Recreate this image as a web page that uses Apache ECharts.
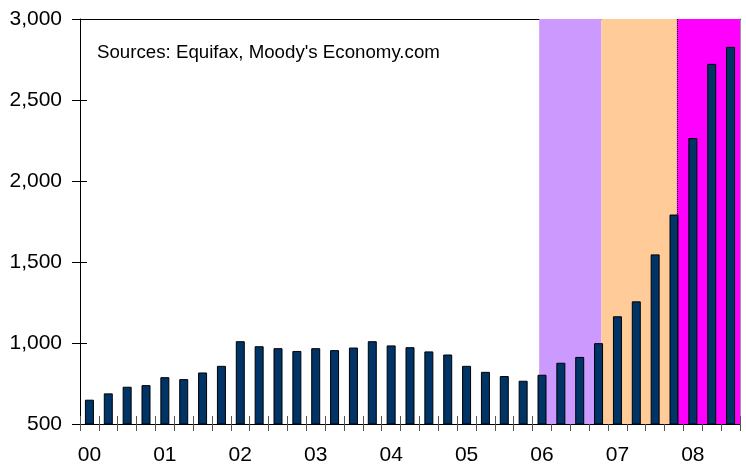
<!DOCTYPE html>
<html>
<head>
<meta charset="utf-8">
<script src="https://cdn.jsdelivr.net/npm/echarts@6/dist/echarts.min.js"></script>
<style>
  html, body { margin: 0; padding: 0; background: #fff; }
  #chart { width: 746px; height: 466px; }
</style>
</head>
<body>
<div id="chart"></div>
<script>
// quarterly data, 2000Q1 - 2008Q3
var years = ['00', '01', '02', '03', '04', '05', '06', '07', '08'];
var quarters = ['Q1', 'Q2', 'Q3', 'Q4'];
var values = [
    650, 689, 730, 740,
    789, 777, 818, 859,
    1011, 980, 968, 951,
    968, 956, 972, 1011,
    985, 974, 948, 929,
    859, 822, 796, 767,
    804, 878, 914, 999,
    1165, 1257, 1547, 1793,
    2265, 2723, 2828
];
// shaded periods, in quarter units counted from 2000Q1
var shadeFrom = [24.35, 27.65, 31.65];
var shadeTo = [27.65, 31.65, 35];
var shadeColors = ['#CC99FF', '#FFCC99', '#FF00FF'];
var yTicks = [500, 1000, 1500, 2000, 2500, 3000];
var sourceText = "Sources: Equifax, Moody's Economy.com";

var categories = [];
for (var i = 0; i < values.length; i++) {
    categories.push(years[Math.floor(i / 4)] + quarters[i % 4]);
}

var areas = [];
for (var k = 0; k < shadeFrom.length; k++) {
    areas.push([
        { xAxis: shadeFrom[k], yAxis: yTicks[0], itemStyle: { color: shadeColors[k] } },
        { xAxis: shadeTo[k], yAxis: yTicks[yTicks.length - 1] }
    ]);
}

var font = 'Liberation Sans, Arial, sans-serif';
var myChart = echarts.init(document.getElementById('chart'));

var option = {
    animation: false,
    backgroundColor: '#fff',
    grid: { left: 80, right: 6, top: 19, bottom: 41 },
    graphic: [{
        type: 'text',
        left: 97,
        top: 43,
        style: { text: sourceText, font: '18.7px ' + font, fill: '#000' }
    }],
    xAxis: [
        {
            type: 'category',
            data: categories,
            position: 'bottom',
            axisLine: { lineStyle: { color: '#000', width: 1 } },
            axisTick: { show: true, interval: 0, length: 7, lineStyle: { color: '#555' } },
            axisLabel: {
                interval: 0, margin: 21, color: '#000', fontSize: 21, fontFamily: font,
                formatter: function (v) { return v.slice(2) === 'Q1' ? v.slice(0, 2) : ''; }
            },
            splitLine: { show: false }
        },
        {
            type: 'category',
            data: categories,
            position: 'bottom',
            axisLine: { show: false },
            axisTick: { show: true, inside: true, interval: 0, length: 8, lineStyle: { color: '#555' } },
            axisLabel: { show: false },
            splitLine: { show: false }
        },
        {
            type: 'value',
            min: 0,
            max: 35,
            position: 'bottom',
            show: false
        },
        {
            type: 'category',
            data: categories,
            position: 'top',
            axisLine: { lineStyle: { color: '#000', width: 1 } },
            axisTick: { show: false },
            axisLabel: { show: false }
        }
    ],
    yAxis: [
        {
            type: 'value',
            min: 500,
            max: 3000,
            interval: 500,
            position: 'left',
            axisLine: { show: true, lineStyle: { color: '#000', width: 1 } },
            axisTick: { show: true, length: 8, lineStyle: { color: '#000' } },
            axisLabel: {
                margin: 18, color: '#000', fontSize: 21, fontFamily: font,
                formatter: function (v) { return v.toLocaleString('en-US'); }
            },
            splitLine: { show: false }
        },
        {
            type: 'value',
            min: 500,
            max: 3000,
            interval: 500,
            position: 'left',
            axisLine: { show: false },
            axisTick: { show: true, inside: true, length: 7, lineStyle: { color: '#000' } },
            axisLabel: { show: false },
            splitLine: { show: false }
        },
        {
            type: 'value',
            min: 500,
            max: 3000,
            position: 'right',
            axisLine: { show: true, lineStyle: { color: '#999', width: 1 } },
            axisTick: { show: false },
            axisLabel: { show: false },
            splitLine: { show: false }
        }
    ],
    series: [
        {
            // shaded periods
            type: 'line',
            xAxisIndex: 2,
            yAxisIndex: 0,
            data: [],
            z: 0,
            silent: true,
            markArea: { silent: true, data: areas },
            markLine: {
                silent: true,
                symbol: 'none',
                label: { show: false },
                lineStyle: { color: '#000', type: 'dotted', width: 1 },
                data: [[
                    { xAxis: shadeFrom[2], yAxis: yTicks[0] },
                    { xAxis: shadeFrom[2], yAxis: yTicks[yTicks.length - 1] }
                ]]
            }
        },
        {
            type: 'bar',
            xAxisIndex: 0,
            yAxisIndex: 0,
            data: values,
            barWidth: 9,
            z: 3,
            itemStyle: { color: '#003366', borderColor: '#000', borderWidth: 1 }
        }
    ]
};

myChart.setOption(option);
</script>
</body>
</html>
